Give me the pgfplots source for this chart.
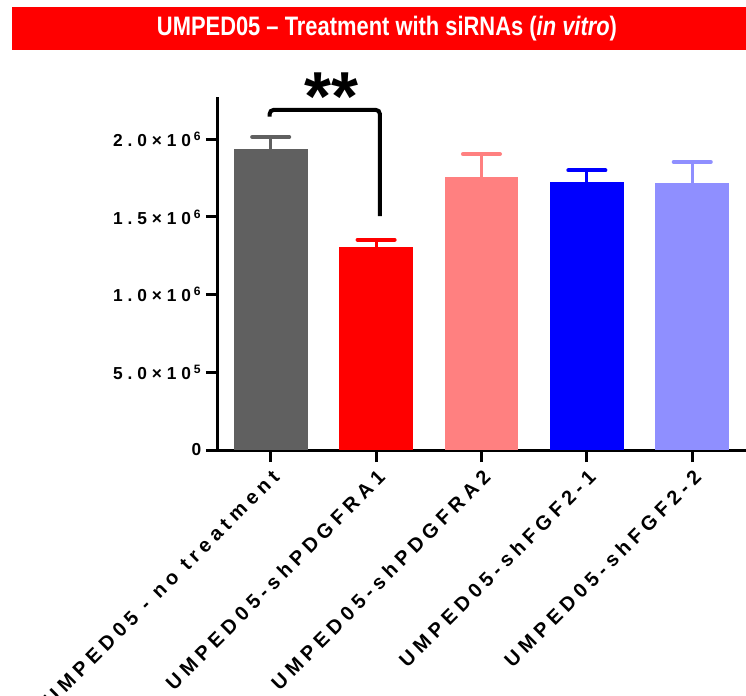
\documentclass[border=0pt]{standalone}
\usepackage{pgfplots}
\pgfplotsset{compat=1.18}
\usepackage{fontspec}
\setmainfont{Liberation Sans}
\newfontfamily\lsfont[LetterSpace=28]{Liberation Sans}
\newfontfamily\xlsfont[LetterSpace=25]{Liberation Sans}
\newfontfamily\titlefont[FakeStretch=0.82]{Liberation Sans}
\definecolor{cgray}{HTML}{606060}
\definecolor{cred}{HTML}{FF0000}
\definecolor{cpink}{HTML}{FF8080}
\definecolor{cblue}{HTML}{0000FF}
\definecolor{clav}{HTML}{8F8FFF}
\pgfplotsset{
  mybar/.style={ybar, bar width=0.7, bar shift=0pt, draw=none, fill=#1,
     error bars/y dir=plus, error bars/y explicit, error bars/error mark=-,
     error bars/error bar style={line width=2.25pt, #1},
     error bars/error mark options={rotate=90, line width=3pt, mark size=13.9pt, line cap=round, #1}},
}
\begin{document}
\begin{tikzpicture}
\fill[cred] (-154.5pt,300pt) rectangle (400pt,332.25pt);
\node[text=white, anchor=center] at (126.75pt,316pt) {\resizebox{345pt}{!}{\titlefont\bfseries UMPED05 – Treatment with siRNAs (\textit{in vitro})}};
\begin{axis}[
  at={(0,0)}, anchor=south west,
  scale only axis, width=396pt, height=264.5pt,
  xmin=-0.5, xmax=4.51, ymin=0, ymax=2.27e6,
  axis x line=bottom, axis y line=left,
  axis line style={-, line width=2.25pt, black},
  clip=false,
  xtick={0,1,2,3,4},
  xticklabels={UMPED05 - no treatment, UMPED05-shPDGFRA1, UMPED05-shPDGFRA2, UMPED05-shFGF2-1, UMPED05-shFGF2-2},
  ytick={0,5e5,1e6,1.5e6,2e6},
  yticklabels={0,{5.0×10\,\textsuperscript{5}},{1.0×10\,\textsuperscript{6}},{1.5×10\,\textsuperscript{6}},{2.0×10\,\textsuperscript{6}}},
  tick style={line width=2.25pt, black},
  major tick length=9pt,
  tick align=outside,
  yticklabel style={font=\lsfont\bfseries\fontsize{13pt}{15pt}\selectfont},
  xticklabel style={rotate=45, anchor=north east, font=\xlsfont\bfseries\fontsize{15pt}{17pt}\selectfont},
  scaled y ticks=false,
]
\addplot[mybar=cgray] coordinates {(0,1.936e6) +- (0,0.079e6)};
\addplot[mybar=cred] coordinates {(1,1.305e6) +- (0,0.049e6)};
\addplot[mybar=cpink] coordinates {(2,1.759e6) +- (0,0.146e6)};
\addplot[mybar=cblue] coordinates {(3,1.725e6) +- (0,0.075e6)};
\addplot[mybar=clav] coordinates {(4,1.717e6) +- (0,0.137e6)};
\draw[line width=3pt, rounded corners=3pt] (axis cs:-0.01,2.146e6) -- (axis cs:-0.01,2.189e6) -- (axis cs:1.036,2.189e6) -- (axis cs:1.036,1.506e6);
\node[anchor=base, inner sep=0pt, font=\bfseries\fontsize{52pt}{52pt}\selectfont] at (axis cs:0.575,2.118e6) {**};
\end{axis}
\pgfresetboundingbox
\path (-163.5pt,-184.5pt) rectangle (396pt,337.5pt);
\end{tikzpicture}
\end{document}
